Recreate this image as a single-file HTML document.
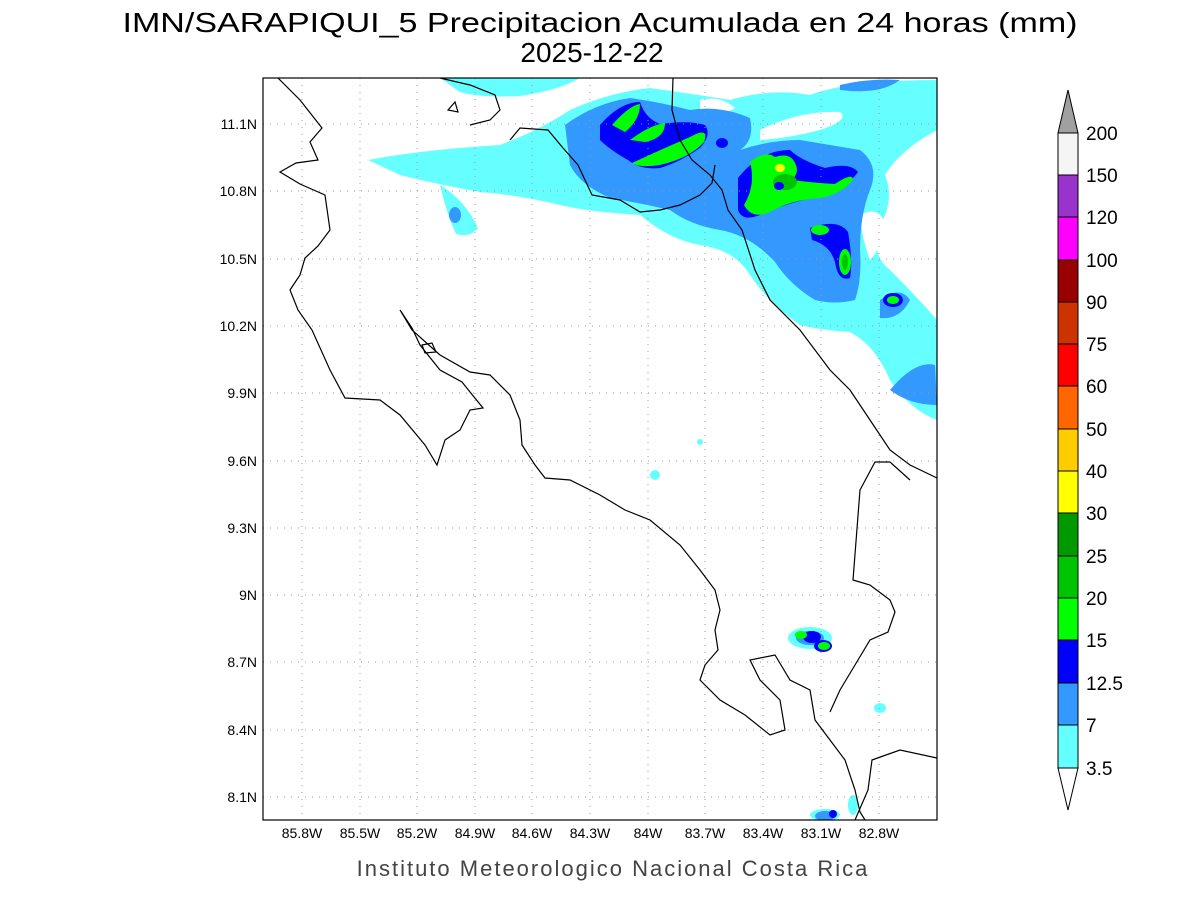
<!DOCTYPE html>
<html><head><meta charset="utf-8"><style>
body{margin:0;background:#fff;width:1200px;height:900px;overflow:hidden}
svg{display:block}
text{font-family:"Liberation Sans",sans-serif}
</style></head><body>
<svg width="1200" height="900" viewBox="0 0 1200 900">
<text x="600" y="32" font-size="28" text-anchor="middle" fill="#000" textLength="955" lengthAdjust="spacingAndGlyphs">IMN/SARAPIQUI_5 Precipitacion Acumulada en 24 horas (mm)</text>
<text x="592" y="62" font-size="28" text-anchor="middle" fill="#000">2025-12-22</text>
<defs><clipPath id="c"><rect x="263" y="78" width="674" height="742"/></clipPath></defs>
<g clip-path="url(#c)">
<g fill="#66ffff">
<path d="M368,160 Q420,150 500,145 Q540,130 570,110 Q610,92 650,88 Q700,95 730,100 Q770,88 810,95 Q850,80 937,80 L937,130 Q900,150 885,175 Q895,200 880,225 Q870,255 890,270 Q920,300 937,320 L937,420 Q910,410 890,380 Q875,345 850,332 Q820,330 800,325 Q770,305 750,275 Q735,250 700,245 Q670,240 640,215 Q590,212 560,205 Q520,195 480,192 Q440,185 400,175 Z"/>
<path d="M440,185 Q465,200 478,228 Q470,238 456,234 Q446,212 440,185 Z"/>
<path d="M440,78 L580,78 Q560,90 520,96 Q480,98 460,92 Z"/>
<ellipse cx="655" cy="475" rx="5" ry="5"/>
<ellipse cx="880" cy="708" rx="6" ry="5"/>
<ellipse cx="810" cy="638" rx="22" ry="11"/>
<ellipse cx="825" cy="815" rx="15" ry="6"/>
<ellipse cx="853" cy="805" rx="5" ry="10"/>
<ellipse cx="700" cy="442" rx="3" ry="3"/>
</g>
<g fill="#fff">
<path d="M760,130 Q800,110 840,112 Q850,120 820,130 Q790,138 760,140 Z"/>
<path d="M860,215 Q880,205 885,225 Q880,250 870,260 Q862,240 860,215 Z"/>
<path d="M700,100 Q720,95 735,108 Q720,118 700,112 Z"/>
</g>
<g fill="#3399ff">
<path d="M565,125 Q595,103 630,98 Q660,102 690,110 Q720,105 750,118 Q755,140 740,150 Q770,140 800,140 Q830,145 860,150 Q880,165 870,190 Q860,215 860,250 Q862,280 855,300 Q835,305 815,300 Q790,285 775,262 Q750,235 720,230 Q690,225 670,210 Q640,203 610,198 Q580,185 570,165 Z"/>
<path d="M880,300 Q900,285 910,300 Q900,320 880,318 Z"/>
<path d="M890,390 Q915,360 935,365 L937,405 Q910,405 890,390 Z"/>
<ellipse cx="455" cy="215" rx="6" ry="8"/>
<ellipse cx="810" cy="638" rx="14" ry="7"/>
<ellipse cx="825" cy="816" rx="10" ry="5"/>
<path d="M840,85 Q870,78 900,80 Q880,95 840,90 Z"/>
</g>
<g fill="#0000ff">
<path d="M600,125 Q620,102 640,102 Q645,118 660,124 Q690,120 705,125 Q712,135 700,148 Q680,162 660,168 Q640,170 628,160 Q610,150 600,140 Z"/>
<path d="M738,178 Q760,150 790,150 Q800,160 825,168 Q850,162 858,172 Q845,190 820,196 Q780,205 760,215 Q742,222 738,210 Z"/>
<path d="M810,228 Q838,218 848,232 Q853,260 850,278 Q838,282 835,262 Q830,245 812,240 Z"/>
<ellipse cx="893" cy="300" rx="10" ry="7"/>
<ellipse cx="812" cy="637" rx="9" ry="6"/>
<ellipse cx="823" cy="646" rx="9" ry="6"/>
<ellipse cx="722" cy="143" rx="6" ry="5"/>
<ellipse cx="833" cy="814" rx="4" ry="4"/>
</g>
<g fill="#00ff00">
<path d="M612,125 Q630,105 640,104 Q640,120 625,132 Z"/>
<path d="M630,140 Q650,125 665,123 Q665,138 645,142 Z"/>
<path d="M632,163 Q660,150 690,137 Q710,126 704,142 Q690,158 660,165 Q640,168 632,163 Z"/>
<path d="M744,205 Q756,185 750,162 Q765,150 775,157 Q790,152 795,163 Q800,172 792,180 Q815,183 835,184 Q853,172 853,180 Q840,195 820,198 Q790,200 770,212 Q752,220 744,205 Z"/>
<ellipse cx="820" cy="230" rx="9" ry="5"/>
<ellipse cx="845" cy="262" rx="6" ry="13"/>
<ellipse cx="893" cy="300" rx="6" ry="4"/>
<ellipse cx="801" cy="635" rx="6" ry="4"/>
<ellipse cx="824" cy="646" rx="6" ry="4"/>
</g>
<g fill="#00c400"><ellipse cx="785" cy="182" rx="12" ry="8"/><ellipse cx="845" cy="262" rx="3" ry="8"/></g>
<ellipse cx="780" cy="168" rx="5" ry="4" fill="#ffff00"/>
<ellipse cx="779" cy="186" rx="5" ry="4" fill="#0000ff"/>
</g>
<g stroke="#999" stroke-width="1" stroke-dasharray="1,6">
<path d="M302,78V820M360,78V820M417,78V820M475,78V820M532,78V820M590,78V820M648,78V820M705,78V820M763,78V820M821,78V820M879,78V820"/>
<path d="M263,124H937M263,191H937M263,259H937M263,326H937M263,393H937M263,461H937M263,528H937M263,595H937M263,662H937M263,730H937M263,797H937"/>
</g>
<g clip-path="url(#c)" fill="none" stroke="#000" stroke-width="1.2">
<path d="M278,78 L300,100 L322,128 L310,142 L318,160 L296,163 L280,172 L300,184 L325,195 L330,230 L318,246 L305,258 L300,275 L290,290 L298,310 L312,330 L330,370 L345,398 L380,400 L400,415 L425,445 L437,465 L445,440 L460,430 L470,410 L483,408 L470,392 L462,382 L440,370 L420,345 L412,328 L400,310 L412,330 L440,355 L470,372 L490,375 L510,395 L520,420 L522,445 L535,465 L545,478 L570,480 L600,495 L625,510 L650,520 L680,545 L700,570 L715,590 L720,610 L715,630 L718,650 L705,665 L700,680 L720,700 L745,715 L770,735 L785,730 L780,700 L760,680 L750,660 L775,655 L790,680 L810,690 L815,720 L830,740 L845,760 L855,790 L860,812 L865,820"/>
<path d="M422,345 L432,343 L436,352 L425,353 Z"/>
<path d="M855,820 L868,790 L872,760 L900,750 L937,758"/>
<path d="M910,480 L890,462 L875,462 L860,490 L853,580 L870,585 L890,600 L895,612 L888,632 L870,640 L858,660 L840,690 L830,712"/>
<path d="M673,78 L672,110 L680,140 L692,160 L710,175 L722,190 L728,210 L742,230 L755,270 L770,300 L800,330 L830,370 L850,390 L870,420 L890,450 L910,465 L937,478"/>
<path d="M563,148 L578,165 L592,195 L620,200 L640,212 L660,210 L680,205 L700,195 L712,183 L715,165"/>
<path d="M563,148 L548,130 L520,128 L510,140"/>
<path d="M440,78 L470,85 L495,95 L500,110 L490,120 L470,125"/>
<path d="M448,110 L455,102 L458,112 Z"/>
</g>
<rect x="263" y="78" width="674" height="742" fill="none" stroke="#000" stroke-width="1.2"/>
<g font-size="14" fill="#000" text-anchor="middle">
<text x="302" y="838">85.8W</text><text x="360" y="838">85.5W</text><text x="417" y="838">85.2W</text><text x="475" y="838">84.9W</text><text x="532" y="838">84.6W</text><text x="590" y="838">84.3W</text><text x="648" y="838">84W</text><text x="705" y="838">83.7W</text><text x="763" y="838">83.4W</text><text x="821" y="838">83.1W</text><text x="879" y="838">82.8W</text>
</g>
<g font-size="14" fill="#000" text-anchor="end">
<text x="257" y="129">11.1N</text><text x="257" y="196">10.8N</text><text x="257" y="264">10.5N</text><text x="257" y="331">10.2N</text><text x="257" y="398">9.9N</text><text x="257" y="466">9.6N</text><text x="257" y="533">9.3N</text><text x="257" y="600">9N</text><text x="257" y="667">8.7N</text><text x="257" y="735">8.4N</text><text x="257" y="802">8.1N</text>
</g>
<text x="613" y="876" font-size="22" text-anchor="middle" fill="#444" letter-spacing="2">Instituto Meteorologico Nacional Costa Rica</text>
<g stroke="#000" stroke-width="1">
<polygon points="1058,133 1078,133 1068,90" fill="#a0a0a0"/>
<rect x="1058" y="133" width="20" height="42" fill="#f5f5f5"/>
<rect x="1058" y="175" width="20" height="42" fill="#9933cc"/>
<rect x="1058" y="217" width="20" height="43" fill="#ff00ff"/>
<rect x="1058" y="260" width="20" height="42" fill="#990000"/>
<rect x="1058" y="302" width="20" height="42" fill="#cc3300"/>
<rect x="1058" y="344" width="20" height="42" fill="#ff0000"/>
<rect x="1058" y="386" width="20" height="43" fill="#ff6600"/>
<rect x="1058" y="429" width="20" height="42" fill="#ffcc00"/>
<rect x="1058" y="471" width="20" height="42" fill="#ffff00"/>
<rect x="1058" y="513" width="20" height="43" fill="#009900"/>
<rect x="1058" y="556" width="20" height="42" fill="#00c400"/>
<rect x="1058" y="598" width="20" height="42" fill="#00ff00"/>
<rect x="1058" y="640" width="20" height="43" fill="#0000ff"/>
<rect x="1058" y="683" width="20" height="42" fill="#3399ff"/>
<rect x="1058" y="725" width="20" height="43" fill="#66ffff"/>
<polygon points="1058,768 1078,768 1068,810" fill="#fff"/>
</g>
<g font-size="19" fill="#000">
<text x="1086" y="140">200</text><text x="1086" y="182">150</text><text x="1086" y="224">120</text><text x="1086" y="267">100</text><text x="1086" y="309">90</text><text x="1086" y="351">75</text><text x="1086" y="393">60</text><text x="1086" y="436">50</text><text x="1086" y="478">40</text><text x="1086" y="520">30</text><text x="1086" y="563">25</text><text x="1086" y="605">20</text><text x="1086" y="647">15</text><text x="1086" y="690">12.5</text><text x="1086" y="732">7</text><text x="1086" y="775">3.5</text>
</g>
</svg>
</body></html>
